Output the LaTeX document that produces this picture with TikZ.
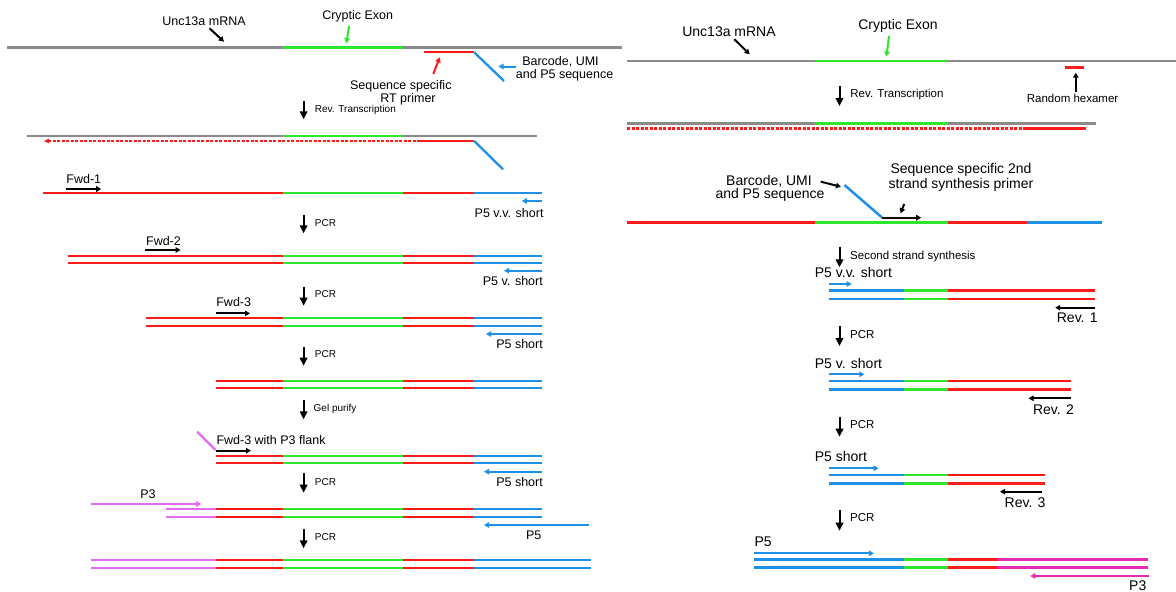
\documentclass[tikz,border=0pt]{standalone}
\usepackage{fontspec}
\setmainfont{Liberation Sans}
\usetikzlibrary{arrows.meta}
\definecolor{cred}{HTML}{FF1A1A}
\definecolor{cgreen}{HTML}{2EE62E}
\definecolor{cblue}{HTML}{1E90E6}
\definecolor{cgray}{HTML}{8A8A8A}
\definecolor{cvio}{HTML}{E36CF2}
\definecolor{cmag}{HTML}{E62AB8}
\begin{document}
\begin{tikzpicture}[x=1pt,y=-1pt,
  st/.style={line width=2.3pt},
  rd/.style={st,cred}, gn/.style={st,cgreen}, bl/.style={st,cblue},
  gy/.style={st,cgray}, vi/.style={st,cvio}, mg/.style={st,cmag},
  ptr/.style={line width=2pt,-{Triangle[length=5pt,width=5.5pt]}},
  dn/.style={line width=2pt,-{Triangle[length=8pt,width=7.5pt]}},
  lbig/.style={inner sep=0pt,font=\fontsize{12.5}{14}\selectfont},
  lsm/.style={inner sep=0pt,font=\fontsize{10}{12}\selectfont},
  rbig/.style={inner sep=0pt,font=\fontsize{14}{16}\selectfont},
  rmed/.style={inner sep=0pt,font=\fontsize{11.5}{13}\selectfont},
  rsm/.style={inner sep=0pt,font=\fontsize{11.5}{13}\selectfont}]
\useasboundingbox[fill=white] (0,0) rectangle (1176,592);

% ================= LEFT PANEL =================
% mRNA
\draw[gy] (7,47.5) -- (622,47.5);
\draw[gn] (282.5,47.5) -- (402.8,47.5);
\node[lbig,anchor=base] (lunc) at (204,25.5) {Unc13a mRNA};
\draw[ptr] (209.5,28.3) -- (224,41.7);
\node[lbig,anchor=base] (lce) at (357.7,19) {Cryptic Exon};
\draw[ptr,cgreen] (349,26) -- (346.4,43.3);
% RT primer
\draw[rd] (423.8,52.3) -- (474.2,52.3);
\draw[bl] (474.2,52.3) -- (504,81);
\draw[ptr,cred] (433.3,74) -- (439.7,57.3);
\node[lbig,anchor=base] (lss1) at (400.8,89.3) {Sequence specific};
\node[lbig,anchor=base] (lss2) at (408,102.6) {RT primer};
\draw[ptr,cblue] (516,66.5) -- (498.5,66.5);
\node[lbig,anchor=base] (lbc1) at (560.5,65.7) {Barcode, UMI};
\node[lbig,anchor=base] (lbc2) at (564.6,78.7) {and P5 sequence};
% RT
\draw[dn] (303.6,101) -- (303.6,119.3);
\node[lsm,anchor=base west] (lrt) at (314.7,112.5) {Rev. Transcription};
\draw[gy] (27,136) -- (536.5,136);
\draw[gn] (282.5,136) -- (402.8,136);
\draw[st,cred,dash pattern=on 3pt off 1.5pt,-{Triangle[length=5pt,width=4.5pt]}] (420,141) -- (44,141);
\draw[rd] (420,141) -- (474.2,141);
\draw[bl] (474.2,141) -- (503,169.3);
% Fwd-1
\node[lbig,anchor=base] (lf1) at (83.8,183.3) {Fwd-1};
\draw[ptr] (65.5,189) -- (101.2,189);
\draw[rd] (42.9,193.3) -- (282.5,193.3);
\draw[gn] (282.5,193.3) -- (402.8,193.3);
\draw[rd] (402.8,193.3) -- (474.2,193.3);
\draw[bl] (474.2,193.3) -- (541.7,193.3);
\draw[ptr,cblue] (541.7,201) -- (521.8,201);
\node[lbig,anchor=base east] (lp5a) at (543.7,217.5) {P5 v.v. short};
\draw[dn] (303.6,215) -- (303.6,233.3);
\node[lsm,anchor=base west] (lpcr1) at (314.7,226) {PCR};
% Fwd-2
\node[lbig,anchor=base] (lf2) at (163.5,245) {Fwd-2};
\draw[ptr] (144.8,250) -- (180.6,250);
\foreach \y in {255.7,263.3}{
  \draw[rd] (68.3,\y) -- (282.5,\y);
  \draw[gn] (282.5,\y) -- (402.8,\y);
  \draw[rd] (402.8,\y) -- (474.2,\y);
  \draw[bl] (474.2,\y) -- (541.7,\y);}
\draw[ptr,cblue] (541.7,270.7) -- (504,270.7);
\node[lbig,anchor=base east] (lp5b) at (543,285) {P5 v. short};
\draw[dn] (303.6,286.7) -- (303.6,305.7);
\node[lsm,anchor=base west] (lpcr2) at (314.7,297.7) {PCR};
% Fwd-3
\node[lbig,anchor=base] (lf3) at (233.7,306.7) {Fwd-3};
\draw[ptr] (215.5,313.3) -- (250,313.3);
\foreach \y in {318.3,326}{
  \draw[rd] (146,\y) -- (282.5,\y);
  \draw[gn] (282.5,\y) -- (402.8,\y);
  \draw[rd] (402.8,\y) -- (474.2,\y);
  \draw[bl] (474.2,\y) -- (541.7,\y);}
\draw[ptr,cblue] (541.7,334) -- (486,334);
\node[lbig,anchor=base east] (lp5c) at (543,348.7) {P5 short};
\draw[dn] (303.6,346.7) -- (303.6,365.7);
\node[lsm,anchor=base west] (lpcr3) at (314.7,357.7) {PCR};
\foreach \y in {381,388.3}{
  \draw[rd] (215.5,\y) -- (282.5,\y);
  \draw[gn] (282.5,\y) -- (402.8,\y);
  \draw[rd] (402.8,\y) -- (474.2,\y);
  \draw[bl] (474.2,\y) -- (541.7,\y);}
\draw[dn] (303.6,400) -- (303.6,419.3);
\node[lsm,anchor=base west] (lgel) at (313.5,411.7) {Gel purify};
% Fwd-3 with P3 flank
\draw[vi] (197.2,431.7) -- (215.5,450);
\node[lbig,anchor=base west] (lf3p) at (216.3,444) {Fwd-3 with P3 flank};
\draw[ptr] (215.5,450.7) -- (251,450.7);
\foreach \y in {455.7,463.3}{
  \draw[rd] (215.5,\y) -- (282.5,\y);
  \draw[gn] (282.5,\y) -- (402.8,\y);
  \draw[rd] (402.8,\y) -- (474.2,\y);
  \draw[bl] (474.2,\y) -- (541.7,\y);}
\draw[ptr,cblue] (541.7,471.7) -- (484,471.7);
\node[lbig,anchor=base east] (lp5d) at (543,486.7) {P5 short};
\draw[dn] (303.6,473.3) -- (303.6,492.7);
\node[lsm,anchor=base west] (lpcr4) at (314.7,485) {PCR};
% P3
\node[lbig,anchor=base] (lp3) at (148,498.3) {P3};
\draw[ptr,cvio] (91.3,504) -- (201.2,504);
\foreach \y in {509.3,516.7}{
  \draw[vi] (165.9,\y) -- (215.5,\y);
  \draw[rd] (215.5,\y) -- (282.5,\y);
  \draw[gn] (282.5,\y) -- (402.8,\y);
  \draw[rd] (402.8,\y) -- (474.2,\y);
  \draw[bl] (474.2,\y) -- (541.7,\y);}
\draw[ptr,cblue] (588.5,525) -- (484,525);
\node[lbig,anchor=base] (lp5e) at (533.7,539) {P5};
\draw[dn] (303.6,529) -- (303.6,548.3);
\node[lsm,anchor=base west] (lpcr5) at (314.7,540) {PCR};
\foreach \y in {560,567.7}{
  \draw[vi] (90.5,\y) -- (215.5,\y);
  \draw[rd] (215.5,\y) -- (282.5,\y);
  \draw[gn] (282.5,\y) -- (402.8,\y);
  \draw[rd] (402.8,\y) -- (474.2,\y);
  \draw[bl] (474.2,\y) -- (590.5,\y);}

% ================= RIGHT PANEL =================
\begin{scope}[st/.style={line width=2.5pt}]
\draw[gy] (627,61) -- (1176,61);
\draw[gn] (814.7,61) -- (947.5,61);
\node[rbig,anchor=base] (runc) at (729,36.7) {Unc13a mRNA};
\draw[ptr] (734.4,39.3) -- (749.7,54.3);
\node[rbig,anchor=base] (rce) at (898,29.3) {Cryptic Exon};
\draw[ptr,cgreen] (889,36) -- (886.4,56.7);
\draw[rd] (1065,67.3) -- (1083.6,67.3);
\draw[ptr] (1075.8,91.7) -- (1075.8,72.7);
\node[rmed,anchor=base] (rhex) at (1072.6,102.3) {Random hexamer};
\draw[dn] (839.5,86) -- (839.5,106);
\node[rsm,anchor=base west] (rrt) at (850.2,97.3) {Rev. Transcription};
\draw[gy] (627,123.3) -- (1096,123.3);
\draw[gn] (814.7,123.3) -- (947.5,123.3);
\draw[st,cred,dash pattern=on 3pt off 1.5pt] (627,128.3) -- (1026,128.3);
\draw[rd] (1026,128.3) -- (1086,128.3);
% second strand primer
\node[rbig,anchor=base] (rss1) at (961,173.3) {Sequence specific 2nd};
\node[rbig,anchor=base] (rss2) at (961,188.3) {strand synthesis primer};
\node[rbig,anchor=base] (rbc1) at (769,185) {Barcode, UMI};
\node[rbig,anchor=base] (rbc2) at (770,198.3) {and P5 sequence};
\draw[ptr] (820.7,181.7) -- (841,186.7);
\draw[bl] (844.5,185) -- (882.2,217.7);
\draw[ptr] (882.2,217.7) -- (921.2,217.7);
\draw[ptr] (904.2,204) -- (900.6,213.3);
\draw[rd] (627,222.3) -- (814.7,222.3);
\draw[gn] (814.7,222.3) -- (947.5,222.3);
\draw[rd] (947.5,222.3) -- (1026.7,222.3);
\draw[bl] (1026.7,222.3) -- (1102.4,222.3);
\draw[dn] (839.5,246.7) -- (839.5,267.3);
\node[rsm,anchor=base west] (rsss) at (850,259) {Second strand synthesis};
% Rev 1
\node[rbig,anchor=base west] (rp5a) at (814.7,277.3) {P5 v.v. short};
\draw[ptr,cblue] (828.9,284) -- (851.6,284);
\foreach \y in {290.7,299}{
  \draw[bl] (828.9,\y) -- (904.2,\y);
  \draw[gn] (904.2,\y) -- (947.5,\y);
  \draw[rd] (947.5,\y) -- (1095.3,\y);}
\draw[ptr] (1095.3,307.7) -- (1055.2,307.7);
\node[rbig,anchor=base east] (rrev1) at (1097.8,322.7) {Rev. 1};
\draw[dn] (839.5,326) -- (839.5,346);
\node[rsm,anchor=base west] (rpcr1) at (850,338.3) {PCR};
% Rev 2
\node[rbig,anchor=base west] (rp5b) at (814.7,368.3) {P5 v. short};
\draw[ptr,cblue] (828.9,374.3) -- (864.4,374.3);
\foreach \y in {381,389.3}{
  \draw[bl] (828.9,\y) -- (904.2,\y);
  \draw[gn] (904.2,\y) -- (947.5,\y);
  \draw[rd] (947.5,\y) -- (1071,\y);}
\draw[ptr] (1071,398.3) -- (1028.5,398.3);
\node[rbig,anchor=base east] (rrev2) at (1074,414) {Rev. 2};
\draw[dn] (839.5,416.7) -- (839.5,436.7);
\node[rsm,anchor=base west] (rpcr2) at (850,428.3) {PCR};
% Rev 3
\node[rbig,anchor=base west] (rp5c) at (814.7,461) {P5 short};
\draw[ptr,cblue] (828.9,468.3) -- (878.6,468.3);
\foreach \y in {475,483.3}{
  \draw[bl] (828.9,\y) -- (904.2,\y);
  \draw[gn] (904.2,\y) -- (947.5,\y);
  \draw[rd] (947.5,\y) -- (1044.5,\y);}
\draw[ptr] (1042,491.7) -- (1000,491.7);
\node[rbig,anchor=base east] (rrev3) at (1045.6,507.3) {Rev. 3};
\draw[dn] (839.5,510) -- (839.5,530.7);
\node[rsm,anchor=base west] (rpcr3) at (850,521.7) {PCR};
% final
\node[rbig,anchor=base west] (rp5d) at (754.3,546) {P5};
\draw[ptr,cblue] (754.3,553.3) -- (874,553.3);
\foreach \y in {559.3,567.7}{
  \draw[bl] (754.3,\y) -- (904.2,\y);
  \draw[gn] (904.2,\y) -- (947.5,\y);
  \draw[rd] (947.5,\y) -- (998.3,\y);
  \draw[mg] (998.3,\y) -- (1147.5,\y);}
\draw[ptr,cmag] (1149.3,576) -- (1030.3,576);
\node[rbig,anchor=base east] (rp3) at (1146.5,590) {P3};
\end{scope}
\end{tikzpicture}
\end{document}
